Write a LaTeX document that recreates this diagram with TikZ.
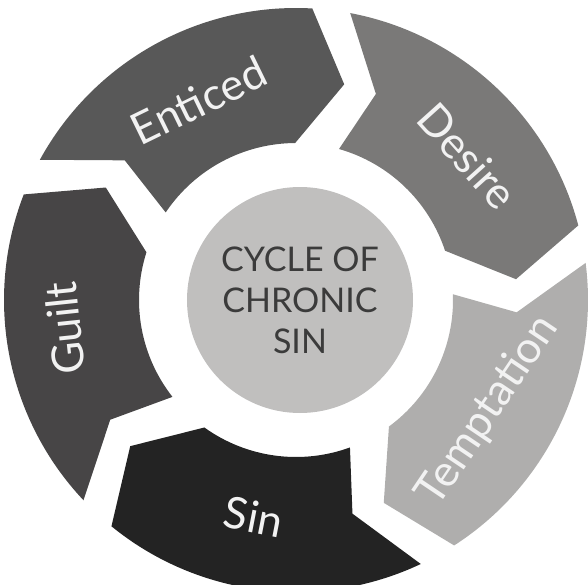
\documentclass[tikz,border=0pt]{standalone}
\usepackage{fontspec}
\setmainfont{Lato}
\usepackage{tikz}
\usetikzlibrary{positioning}
\usepackage{xcolor}

\definecolor{enticedgray}{HTML}{585858}
\definecolor{desiregray}{HTML}{7A7978}
\definecolor{temptgray}{HTML}{AFAEAD}
\definecolor{singray}{HTML}{232323}
\definecolor{guiltgray}{HTML}{474546}
\definecolor{hubgray}{HTML}{C0BFBE}
\definecolor{hubtext}{HTML}{3B3B3B}

\begin{document}
\begin{tikzpicture}[x=1pt, y=1pt,
        steplabel/.style={text=white!95!black, font=\fontsize{44}{52}\selectfont},
        hub/.style={circle, fill=hubgray, minimum size=226pt, inner sep=0pt,
            align=center, text=hubtext, font=\fontsize{34}{41}\selectfont}]
            % Page frame around the ring
            \useasboundingbox (-296,-284) rectangle (292,300);

            % Ring of arrow blocks, clockwise from Enticed
            \foreach \name/\shade/\pos/\rad/\rot [count=\k from 0] in {Enticed/enticedgray/116/222/26, Desire/desiregray/40/224/-48, Temptation/temptgray/-30/222/56, Sin/singray/-101/221/-11, Guilt/guiltgray/187/233/96} {
                \pgfmathsetmacro{\tail}{151.3 - 72*\k}
                \pgfmathsetmacro{\head}{\tail - 64.5}
                \pgfmathsetmacro{\tip}{\head - 9.4}
                \pgfmathsetmacro{\headin}{\head + 3.5}
                \pgfmathsetmacro{\tailin}{\tail - 5.2}
                \pgfmathsetmacro{\notch}{\tail - 10.5}
                \fill[\shade] (\tail:292) arc[start angle=\tail, end angle=\head, radius=292]
                    -- (\tip:221) -- (\headin:157)
                    arc[start angle=\headin, end angle=\tailin, radius=157]
                    -- (\notch:221) -- cycle;
                \node[steplabel, rotate=\rot] (\name) at (\pos:\rad) {\name};
            }

            % Centre disc
            \node[hub] (hub) at (4,0) {CYCLE OF\\CHRONIC\\SIN};
        \end{tikzpicture}
\end{document}
